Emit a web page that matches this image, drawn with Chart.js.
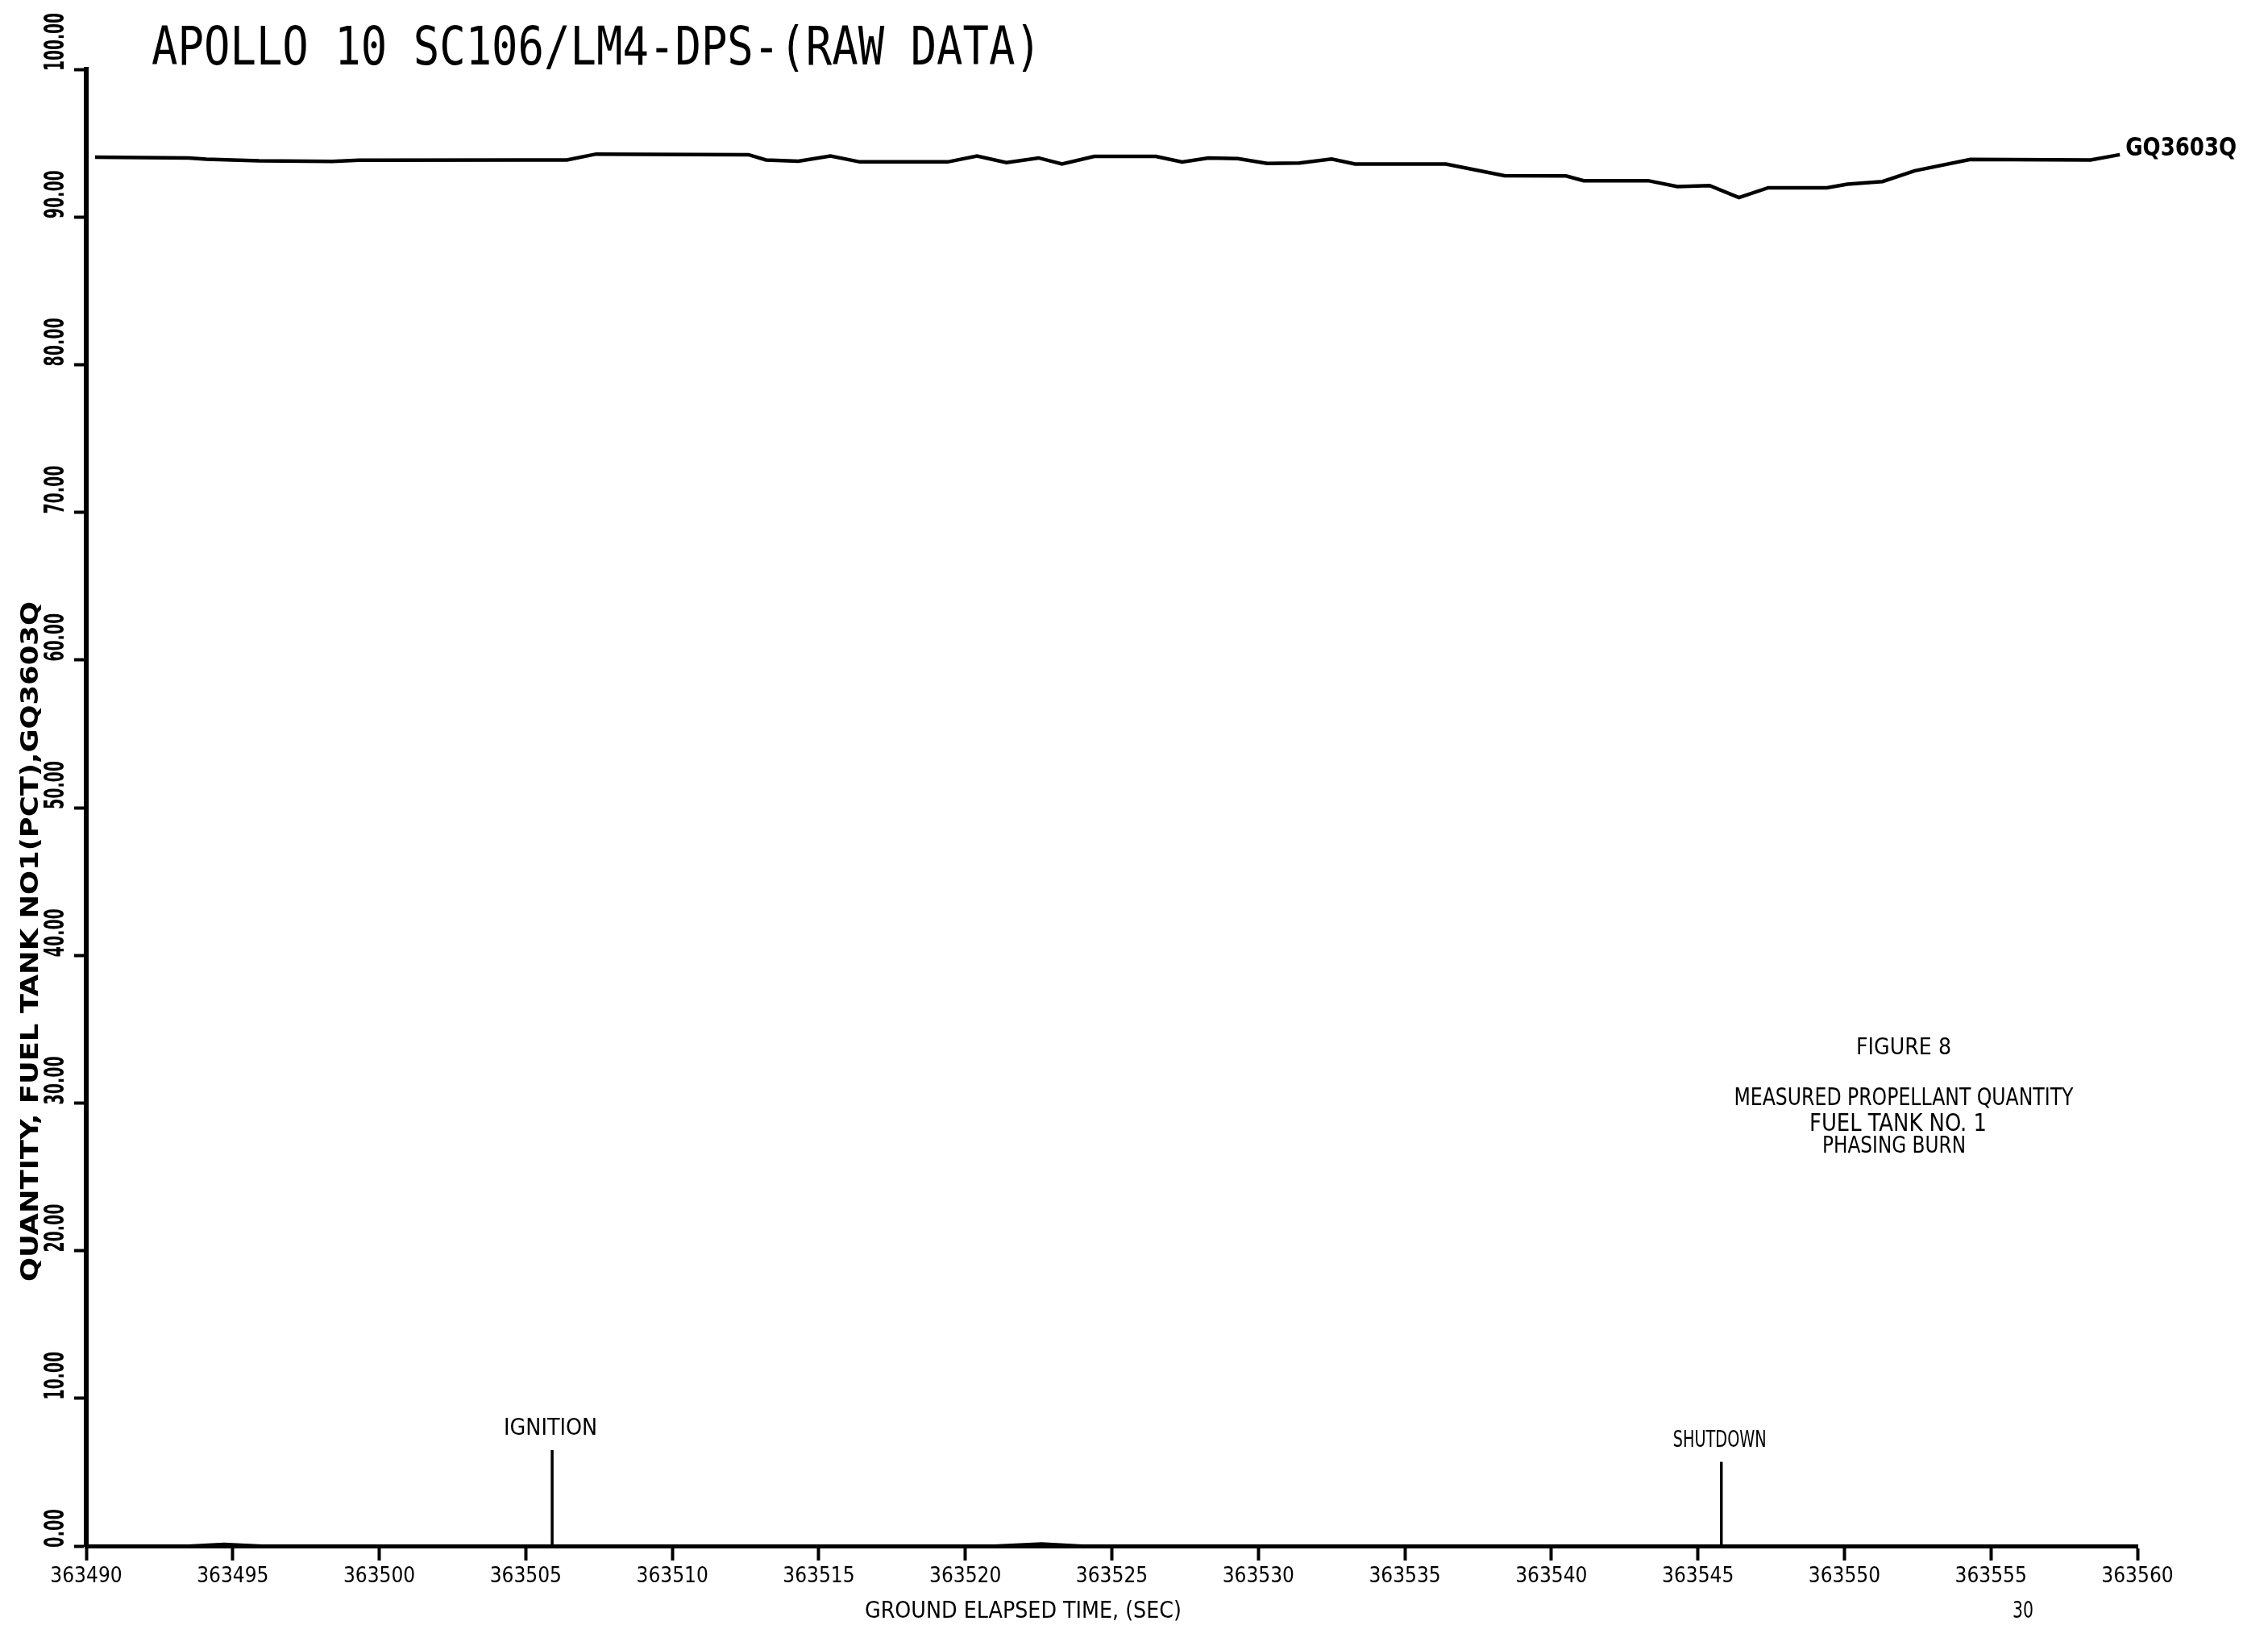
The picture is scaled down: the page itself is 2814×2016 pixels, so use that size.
<!DOCTYPE html>
<html>
<head>
<meta charset="utf-8">
<script src="https://cdn.jsdelivr.net/npm/chart.js@4"></script>
<style>
  html, body { margin: 0; padding: 0; background: #fff; }
  canvas { display: block; }
</style>
</head>
<body>
<canvas id="chart" width="2814" height="2016"></canvas>
<script>
// GQ3603Q trace (ground elapsed time, sec / percent)
const timeSec = [
  363490.3, 363493.5, 363494.1, 363495.9, 363498.4, 363499.3, 363504.9, 363506.4,
  363507.4, 363512.6, 363513.2, 363514.3, 363515.4, 363516.4, 363519.4, 363520.4,
  363521.4, 363522.5, 363523.3, 363524.4, 363526.5, 363527.4, 363528.3, 363529.3,
  363530.3, 363531.4, 363532.5, 363533.3, 363536.4, 363538.4, 363540.5, 363541.1,
  363543.3, 363544.3, 363545.4, 363546.4, 363547.4, 363549.4, 363550.1, 363551.3,
  363552.4, 363554.3, 363558.4, 363559.4
];
const fuelPct = [
  94.05, 94.00, 93.92, 93.81, 93.77, 93.84, 93.86, 93.86,
  94.26, 94.22, 93.86, 93.78, 94.13, 93.73, 93.73, 94.13,
  93.68, 94.00, 93.59, 94.10, 94.10, 93.72, 94.00, 93.95,
  93.63, 93.65, 93.92, 93.59, 93.59, 92.80, 92.78, 92.46,
  92.46, 92.06, 92.13, 91.31, 91.98, 91.98, 92.22, 92.40,
  93.13, 93.90, 93.86, 94.22
];

// trace lying on the zero line
const zeroTimeSec = [363490, 363493.5, 363494.7, 363496, 363521.0, 363522.6, 363524.0, 363560];
const zeroPct = [0, 0, 0.12, 0, 0, 0.15, 0, 0];

// event marks
const eventTimes = [363505.9, 363545.8];
const eventHeights = [6.5, 5.7];
const eventNames = ['IGNITION', 'SHUTDOWN'];

const xTickValues = [363490, 363495, 363500, 363505, 363510, 363515, 363520,
  363525, 363530, 363535, 363540, 363545, 363550, 363555, 363560];
const yTickValues = [0, 10, 20, 30, 40, 50, 60, 70, 80, 90, 100];

const seriesName = 'GQ3603Q';
const titleText = 'APOLLO 10 SC106/LM4-DPS-(RAW DATA)';
const yTitle = 'QUANTITY, FUEL TANK NO1(PCT),GQ3603Q';
const xTitle = 'GROUND ELAPSED TIME, (SEC)';
const noteLines = ['FIGURE 8', 'MEASURED PROPELLANT QUANTITY', 'FUEL TANK NO. 1', 'PHASING BURN'];

const COND = '"DejaVu Sans Condensed", "DejaVu Sans", sans-serif';

function drawText(ctx, text, x, y, o) {
  ctx.save();
  ctx.font = (o.weight || 'normal') + ' ' + o.size + 'px ' + (o.family || COND);
  const w = ctx.measureText(text).width;
  const sx = o.width ? o.width / w : 1;
  ctx.translate(x, y);
  if (o.rotate) ctx.rotate(-Math.PI / 2);
  ctx.scale(sx, 1);
  ctx.textAlign = o.align || 'left';
  ctx.textBaseline = 'alphabetic';
  ctx.fillStyle = '#000';
  ctx.fillText(text, 0, 0);
  ctx.restore();
}

const datasets = [
  {
    label: seriesName,
    data: timeSec.map((t, i) => ({ x: t, y: fuelPct[i] })),
    borderColor: '#000',
    borderWidth: 4.5,
    pointRadius: 0,
    showLine: true
  },
  {
    label: 'zero',
    data: zeroTimeSec.map((t, i) => ({ x: t, y: zeroPct[i] })),
    borderColor: '#000',
    borderWidth: 4,
    pointRadius: 0,
    showLine: true
  }
];
eventTimes.forEach((t, i) => {
  datasets.push({
    label: eventNames[i],
    data: [{ x: t, y: 0 }, { x: t, y: eventHeights[i] }],
    borderColor: '#000',
    borderWidth: 3.5,
    pointRadius: 0,
    showLine: true
  });
});

const textPlugin = {
  id: 'texts',
  afterDraw(chart) {
    const ctx = chart.ctx;
    const xs = chart.scales.x, ys = chart.scales.y;

    drawText(ctx, titleText, 188, 80, { size: 66, family: '"DejaVu Sans Mono", monospace', width: 1104 });

    // y tick labels, rotated, ending at the tick
    ys.ticks.forEach(tk => {
      const s = tk.value.toFixed(2);
      drawText(ctx, s, 79, ys.getPixelForValue(tk.value) + 2,
        { size: 33, weight: 'bold', width: 12 * s.length, rotate: true });
    });
    drawText(ctx, yTitle, 47, 1590, { size: 30, weight: 'bold', width: 844, rotate: true });

    drawText(ctx, xTitle, 1073, 2007, { size: 29, width: 393 });
    drawText(ctx, '30', 2510, 2007, { size: 28, align: 'center', width: 26 });

    // event labels above their marks
    eventTimes.forEach((t, i) => {
      const px = xs.getPixelForValue(t);
      const py = ys.getPixelForValue(eventHeights[i]);
      drawText(ctx, eventNames[i], px - 2, py - 19, { size: 28, align: 'center', width: 116 });
    });

    // series name at the end of the trace
    const n = timeSec.length - 1;
    drawText(ctx, seriesName, xs.getPixelForValue(timeSec[n]) + 7, ys.getPixelForValue(fuelPct[n]) + 1,
      { size: 32, weight: 'bold', width: 138 });

    // figure caption
    drawText(ctx, noteLines[0], 2362, 1308, { size: 28, align: 'center', width: 118 });
    drawText(ctx, noteLines[1], 2362, 1371, { size: 30, align: 'center', width: 421 });
    drawText(ctx, noteLines[2], 2355, 1403, { size: 30, align: 'center', width: 220 });
    drawText(ctx, noteLines[3], 2350, 1430, { size: 28, align: 'center', width: 178 });
  }
};

new Chart(document.getElementById('chart').getContext('2d'), {
  type: 'scatter',
  data: { datasets: datasets },
  options: {
    responsive: false,
    animation: false,
    events: [],
    layout: { padding: { left: 92, top: 86, right: 162, bottom: 0 } },
    plugins: { legend: { display: false }, tooltip: { enabled: false } },
    scales: {
      x: {
        type: 'linear',
        min: 363490,
        max: 363560,
        afterBuildTicks: s => { s.ticks = xTickValues.map(v => ({ value: v })); },
        afterFit: s => { s.height = 98; },
        border: { color: '#000', width: 5 },
        grid: { drawOnChartArea: false, drawTicks: true, tickLength: 18, tickWidth: 4, tickColor: '#000' },
        ticks: {
          autoSkip: false,
          maxRotation: 0,
          padding: 5,
          color: '#000',
          font: { family: COND, size: 26 },
          callback: v => String(v)
        }
      },
      y: {
        min: 0,
        max: 100,
        afterBuildTicks: s => { s.ticks = yTickValues.map(v => ({ value: v })); },
        afterFit: s => { s.width = 15; },
        border: { color: '#000', width: 6 },
        grid: { drawOnChartArea: false, drawTicks: true, tickLength: 15, tickWidth: 4, tickColor: '#000' },
        ticks: { display: false }
      }
    }
  },
  plugins: [textPlugin]
});
</script>
</body>
</html>
